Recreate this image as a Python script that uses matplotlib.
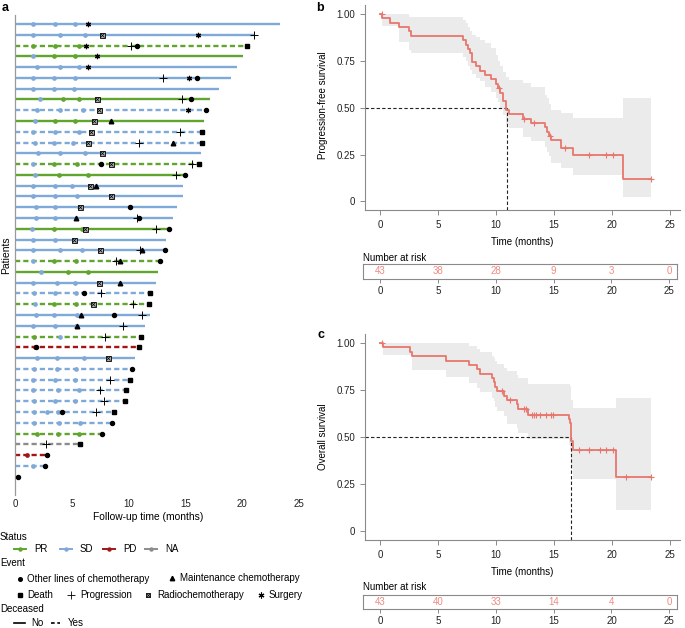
import numpy as np
import matplotlib
matplotlib.use('Agg')
import matplotlib.pyplot as plt
from matplotlib.lines import Line2D

plt.rcParams['font.family'] = ['Liberation Sans', 'DejaVu Sans']
plt.rcParams['font.size'] = 7

# ---------------- swimmer data (panel a) ----------------
duration = [23.3, 21.1, 20.4, 20.1, 19.5, 19.0, 18.0, 17.2, 16.8, 16.65,
            16.5, 16.5, 16.4, 16.2, 14.95, 14.75, 14.75, 14.3, 13.9, 13.55,
            13.25, 13.2, 12.75, 12.6, 12.4, 11.9, 11.8, 11.9, 11.45, 11.05,
            10.9, 10.6, 10.3, 10.1, 9.8, 9.7, 8.7, 8.5, 7.7, 5.7,
            2.8, 2.6, 0.3]
status = ['SD', 'SD', 'PR', 'PR', 'SD', 'SD', 'SD', 'PR', 'SD', 'PR',
          'SD', 'SD', 'SD', 'PR', 'PR', 'SD', 'SD', 'SD', 'SD', 'PR',
          'SD', 'SD', 'PR', 'PR', 'SD', 'SD', 'PR', 'SD', 'SD', 'PR',
          'PD', 'SD', 'SD', 'SD', 'SD', 'SD', 'SD', 'SD', 'PR', 'NA',
          'PD', 'SD', 'NA']
deceased = [0, 0, 1, 0, 0, 0, 0, 0, 1, 0,
            1, 1, 0, 1, 0, 0, 0, 0, 0, 0,
            0, 0, 1, 0, 0, 1, 1, 0, 0, 1,
            1, 0, 1, 1, 1, 1, 1, 1, 1, 1,
            1, 1, 1]
assess_times = [[1.6, 3.5, 5.3], [1.6, 3.96, 6.16], [1.6, 3.5, 5.6], [1.6, 3.46, 5.28],
                [1.9, 4.0, 5.6], [1.6, 3.46, 5.3], [1.6, 3.4, 5.2], [2.2, 4.2, 5.6],
                [1.9, 3.96, 6.0], [1.75, 3.5, 5.3], [1.6, 3.5, 5.6], [1.75, 3.46, 5.1],
                [2.05, 4.0, 6.16], [1.6, 3.4, 5.5], [1.76, 3.9, 6.4], [1.6, 3.5, 5.0],
                [1.6, 3.5, 5.5], [1.85, 3.5, 5.6], [1.85, 3.5], [1.5, 3.4, 5.9],
                [1.6, 3.5], [1.6, 3.96, 5.9], [1.6, 3.46, 5.4], [2.25, 4.7, 6.45],
                [1.6, 3.7, 5.3], [1.7, 3.5, 5.4], [1.8, 3.46, 5.4], [1.85, 3.46, 5.5],
                [1.6, 3.5, 5.4], [1.7, 3.96], [1.8], [1.9, 3.7, 6.1],
                [1.7, 3.7, 5.4], [1.6, 3.5, 5.3], [1.6, 3.8, 5.6], [1.7, 3.55, 5.3],
                [1.7, 2.85, 3.8], [1.7, 3.9, 5.7], [1.9, 3.8, 5.65], [],
                [1.05], [1.6], []]
assess_status = ['SSS', 'SSS', 'PPP', 'SPP', 'SSS', 'SSS', 'SSS', 'SPP', 'SSS', 'SPP',
                 'SSS', 'SSS', 'SSS', 'SPP', 'SPP', 'SSS', 'SSS', 'SSS', 'SS', 'SPP',
                 'SS', 'SSS', 'SPP', 'SPP', 'SSS', 'SSS', 'SPP', 'SSS', 'SSS', 'PS',
                 'D', 'SSS', 'SSS', 'SSS', 'SSS', 'SSS', 'SSS', 'SSS', 'PPP', '',
                 'D', 'S', '']

# events: (patient number, month)
ev_other_chemo = [(3, 10.7), (6, 16.0), (8, 15.45), (9, 16.8), (14, 7.6), (15, 15.0),
                  (18, 10.1), (19, 10.9), (20, 13.55), (22, 13.2), (23, 12.75),
                  (26, 6.1), (28, 8.7), (31, 1.85), (33, 10.3), (37, 4.1), (38, 8.5),
                  (39, 7.7), (41, 2.8), (42, 2.6), (43, 0.3)]
ev_maintenance = [(10, 8.45), (12, 13.9), (16, 7.1), (19, 5.35), (22, 11.15),
                  (23, 9.25), (25, 9.25), (28, 5.85), (29, 5.5)]
ev_death = [(3, 20.4), (11, 16.5), (12, 16.5), (14, 16.2), (26, 11.9), (27, 11.8),
            (30, 11.05), (31, 10.9), (34, 10.1), (35, 9.8), (36, 9.7), (37, 8.7),
            (40, 5.7)]
ev_progression = [(2, 21.05), (3, 10.2), (6, 13.05), (8, 14.7), (11, 14.55), (12, 10.95),
                  (14, 15.6), (15, 14.2), (19, 10.7), (20, 12.4), (22, 11.0), (23, 8.9),
                  (26, 7.6), (27, 10.35), (28, 11.2), (29, 9.5), (30, 7.95), (34, 8.4),
                  (35, 7.5), (36, 7.8), (37, 7.1), (40, 2.7)]
ev_radiochemo = [(2, 7.7), (8, 7.2), (9, 7.4), (10, 6.95), (11, 6.65), (12, 6.45),
                 (13, 7.7), (14, 8.45), (16, 6.6), (17, 8.45), (18, 5.7), (20, 6.15),
                 (21, 5.15), (22, 7.5), (25, 7.4), (27, 6.9), (32, 8.2)]
ev_surgery = [(1, 6.45), (2, 16.1), (3, 6.25), (4, 7.2), (5, 6.45), (6, 15.3), (9, 15.25)]

status_colors = {'PR': '#5FA52E', 'SD': '#7FA9D8', 'PD': '#A31515', 'NA': '#8C8C8C'}
code_status = {'P': 'PR', 'S': 'SD', 'D': 'PD', 'N': 'NA'}

# ---------------- Kaplan-Meier data (panels b, c) ----------------
pfs_t = [0, 0.2, 0.85, 1.65, 2.5, 2.7, 7.15, 7.45, 7.6, 7.75, 7.9, 8.25, 8.6, 9.05, 9.6,
         10.05, 10.2, 10.4, 10.6, 10.85, 11.1, 12.3, 13.05, 14.2, 14.45, 14.6, 14.75,
         15.6, 16.7, 21.0, 23.4]
pfs_s = [1.0, 0.977, 0.953, 0.930, 0.907, 0.884, 0.860, 0.837, 0.814, 0.791, 0.744,
         0.721, 0.698, 0.674, 0.651, 0.628, 0.605, 0.581, 0.535, 0.488, 0.465, 0.442,
         0.419, 0.395, 0.372, 0.349, 0.326, 0.287, 0.245, 0.122, 0.122]
pfs_hi = [1.0, 1.0, 1.0, 1.0, 0.986, 0.986, 0.968, 0.95, 0.93, 0.91, 0.89, 0.875, 0.86,
          0.845, 0.82, 0.78, 0.75, 0.72, 0.69, 0.665, 0.65, 0.63, 0.61, 0.57, 0.55,
          0.52, 0.49, 0.47, 0.443, 0.55, 0.55]
pfs_lo = [1.0, 0.938, 0.938, 0.85, 0.81, 0.79, 0.77, 0.75, 0.72, 0.70, 0.68, 0.66, 0.64,
          0.61, 0.585, 0.55, 0.53, 0.50, 0.46, 0.415, 0.39, 0.345, 0.32, 0.29, 0.265,
          0.24, 0.205, 0.176, 0.14, 0.025, 0.025]
pfs_censor = [0.15, 10.3, 12.45, 13.3, 14.65, 16.0, 18.0, 19.5, 20.1, 23.4]
pfs_median = 10.95
pfs_risk = [43, 38, 28, 9, 3, 0]

os_t = [0, 0.25, 2.6, 2.75, 5.7, 7.7, 8.4, 8.65, 9.65, 9.8, 9.95, 10.1, 10.7, 10.95,
        11.8, 11.95, 12.8, 16.3, 16.4, 16.5, 16.7, 20.4, 23.4]
os_s = [1.0, 0.977, 0.953, 0.930, 0.907, 0.884, 0.860, 0.837, 0.814, 0.791, 0.767,
        0.744, 0.721, 0.698, 0.674, 0.651, 0.620, 0.597, 0.574, 0.478, 0.430, 0.287, 0.287]
os_hi = [1.0, 1.0, 1.0, 1.0, 1.0, 0.985, 0.97, 0.95, 0.93, 0.92, 0.905, 0.89, 0.87, 0.85,
         0.83, 0.815, 0.78, 0.78, 0.77, 0.70, 0.657, 0.707, 0.707]
os_lo = [1.0, 0.935, 0.935, 0.855, 0.82, 0.79, 0.76, 0.74, 0.71, 0.69, 0.66, 0.64, 0.61,
         0.57, 0.55, 0.52, 0.49, 0.46, 0.43, 0.33, 0.28, 0.113, 0.113]
os_censor = [0.2, 10.5, 11.2, 12.4, 12.6, 13.1, 13.3, 13.5, 13.8, 14.35, 14.75, 14.9,
             17.2, 18.0, 19.0, 19.5, 20.1, 21.2, 23.4]
os_median = 16.5
os_risk = [43, 40, 33, 14, 4, 0]

risk_times = [0, 5, 10, 15, 20, 25]

KM_COLOR = '#E8766C'
RISK_COLOR = '#EE8A82'
GREY = '#8A8A8A'
W, H = 685.0, 628.0


def fig_rect(x0, y0, x1, y1):
    # pixel box (top-left origin) -> figure fraction rect
    return [x0 / W, 1 - y1 / H, (x1 - x0) / W, (y1 - y0) / H]


def DrawSwimmer(ax):
    dash = (0, (2.2, 1.3))
    for i in range(len(duration)):
        y = i + 1
        ls = dash if deceased[i] else '-'
        ax.plot([0, duration[i]], [y, y], color=status_colors[status[i]], lw=1.7,
                ls=ls, solid_capstyle='butt', dash_capstyle='butt', zorder=1)
        for t, c in zip(assess_times[i], assess_status[i]):
            ax.plot(t, y, 'o', color=status_colors[code_status[c]], ms=3.4,
                    mec='none', zorder=2)

    def pts(ev):
        return [e[1] for e in ev], [e[0] for e in ev]

    x, y = pts(ev_other_chemo)
    ax.plot(x, y, 'o', color='black', ms=2.9, ls='none', zorder=3)
    x, y = pts(ev_maintenance)
    ax.plot(x, y, '^', color='black', ms=3.3, ls='none', zorder=3)
    x, y = pts(ev_death)
    ax.plot(x, y, 's', color='black', ms=2.8, ls='none', zorder=3)
    x, y = pts(ev_progression)
    ax.plot(x, y, '+', color='black', ms=6, mew=0.7, ls='none', zorder=3)
    x, y = pts(ev_radiochemo)
    ax.plot(x, y, 's', mfc='#b0b0b0', mec='black', ms=3.6, mew=0.6, ls='none', zorder=3)
    ax.plot(x, y, 'x', color='black', ms=2.6, mew=0.5, ls='none', zorder=4)
    x, y = pts(ev_surgery)
    ax.plot(x, y, marker=(6, 2, 0), color='black', ms=3.8, mew=0.9, ls='none', zorder=3)

    ax.set_xlim(0, 25.5)
    ax.set_ylim(len(duration) + 1.7, 0.17)
    ax.set_xticks([0, 5, 10, 15, 20, 25])
    ax.set_yticks([])
    ax.tick_params(axis='x', length=0, pad=3, labelsize=7, labelcolor='#222222')
    for s in ['top', 'right', 'bottom']:
        ax.spines[s].set_visible(False)
    ax.spines['left'].set_color('#9a9a9a')
    ax.spines['left'].set_linewidth(0.9)


def DrawKM(ax, t, s, lo, hi, censor, median):
    ax.fill_between(t, lo, hi, step='post', color='#EBEBEB', lw=0, zorder=1)
    ax.step(t, s, where='post', color=KM_COLOR, lw=1.3, zorder=3)
    t_arr = np.asarray(t)
    cy = [s[np.searchsorted(t_arr, c, side='right') - 1] for c in censor]
    ax.plot(censor, cy, '+', color=KM_COLOR, ms=4, mew=0.8, ls='none', zorder=4)
    ax.plot([-1.3, median], [0.5, 0.5], color='#222222', lw=0.8, ls=(0, (3, 2)), zorder=2)
    ax.plot([median, median], [-0.046, 0.5], color='#222222', lw=0.8, ls=(0, (3, 2)), zorder=2)
    ax.set_xlim(-1.3, 25.9)
    ax.set_ylim(-0.046, 1.048)
    ax.set_xticks([0, 5, 10, 15, 20, 25])
    ax.set_yticks([0, 0.25, 0.5, 0.75, 1.0])
    ax.set_yticklabels(['0', '0.25', '0.50', '0.75', '1.00'])
    ax.set_xlabel('Time (months)', fontsize=7, labelpad=5)
    ax.tick_params(length=3.5, width=0.7, color=GREY, labelsize=7, labelcolor='#222222')
    for sp in ['top', 'right']:
        ax.spines[sp].set_visible(False)
    for sp in ['left', 'bottom']:
        ax.spines[sp].set_color(GREY)
        ax.spines[sp].set_linewidth(0.8)


def DrawRisk(ax, risk):
    ax.set_xlim(-1.47, 25.66)
    ax.set_ylim(0, 1)
    for x, n in zip(risk_times, risk):
        ax.text(x, 0.5, str(n), color=RISK_COLOR, ha='center', va='center', fontsize=7)
    ax.set_xticks(risk_times)
    ax.set_yticks([])
    ax.tick_params(axis='x', length=3, width=0.7, color=GREY, pad=2,
                   labelsize=7, labelcolor='#222222')
    for sp in ax.spines.values():
        sp.set_color(GREY)
        sp.set_linewidth(0.8)


fig = plt.figure(figsize=(6.85, 6.28), dpi=100)

ax_a = fig.add_axes(fig_rect(15, 15, 304.7, 495))
DrawSwimmer(ax_a)

ax_b = fig.add_axes(fig_rect(365, 5, 680, 210))
DrawKM(ax_b, pfs_t, pfs_s, pfs_lo, pfs_hi, pfs_censor, pfs_median)
ax_br = fig.add_axes(fig_rect(363, 264, 677, 279))
DrawRisk(ax_br, pfs_risk)

ax_c = fig.add_axes(fig_rect(365, 334, 680, 540))
DrawKM(ax_c, os_t, os_s, os_lo, os_hi, os_censor, os_median)
ax_cr = fig.add_axes(fig_rect(363, 595, 677, 609))
DrawRisk(ax_cr, os_risk)

# overlay in pixel coordinates for labels and the legend of panel a
ov = fig.add_axes([0, 0, 1, 1], zorder=-1)
ov.set_xlim(0, W)
ov.set_ylim(H, 0)
ov.axis('off')

ov.text(2, 8, 'a', fontsize=9, fontweight='bold', va='center')
ov.text(316, 8, 'b', fontsize=9, fontweight='bold', va='center')
ov.text(318, 335, 'c', fontsize=9, fontweight='bold', va='center')
ov.text(6, 255, 'Patients', rotation=90, ha='center', va='center', fontsize=7.5)
ov.text(148, 517, 'Follow-up time (months)', ha='center', va='center', fontsize=7.4)
ov.text(323, 105, 'Progression-free survival', rotation=90, ha='center', va='center', fontsize=7)
ov.text(323, 437, 'Overall survival', rotation=90, ha='center', va='center', fontsize=7)
ov.text(363, 258, 'Number at risk', ha='left', va='center', fontsize=7)
ov.text(363, 587, 'Number at risk', ha='left', va='center', fontsize=7)

# legend
ov.text(0, 537, 'Status', ha='left', va='center', fontsize=7)
for x0, lab in zip([14, 60, 103, 145], ['PR', 'SD', 'PD', 'NA']):
    col = status_colors[lab]
    ov.add_line(Line2D([x0, x0 + 12], [549, 549], color=col, lw=1.4))
    ov.plot(x0 + 6, 549, 'o', color=col, ms=3.2, mec='none')
    ov.text(x0 + 20, 549, lab, ha='left', va='center', fontsize=7)

ov.text(0, 563, 'Event', ha='left', va='center', fontsize=7)
ov.plot(20, 579, 'o', color='black', ms=2.6)
ov.text(27, 579, 'Other lines of chemotherapy', ha='left', va='center', fontsize=7)
ov.plot(172, 578, '^', color='black', ms=3.2)
ov.text(180, 578, 'Maintenance chemotherapy', ha='left', va='center', fontsize=7)
ov.plot(20, 595, 's', color='black', ms=2.6)
ov.text(27, 595, 'Death', ha='left', va='center', fontsize=7)
ov.plot(71, 595, '+', color='black', ms=5.5, mew=0.6)
ov.text(80, 595, 'Progression', ha='left', va='center', fontsize=7)
ov.plot(148, 595, 's', mfc='#b0b0b0', mec='black', ms=3.4, mew=0.6)
ov.plot(148, 595, 'x', color='black', ms=2.4, mew=0.5)
ov.text(157, 595, 'Radiochemotherapy', ha='left', va='center', fontsize=7)
ov.plot(261, 595, marker=(6, 2, 0), color='black', ms=4.2, mew=0.8)
ov.text(269, 595, 'Surgery', ha='left', va='center', fontsize=7)

ov.text(0, 609, 'Deceased', ha='left', va='center', fontsize=7)
ov.add_line(Line2D([14, 25], [623, 623], color='black', lw=1.2))
ov.text(31, 623, 'No', ha='left', va='center', fontsize=7)
ov.add_line(Line2D([51, 60], [623, 623], color='black', lw=1.2, ls=(0, (2.2, 1.6))))
ov.text(68, 623, 'Yes', ha='left', va='center', fontsize=7)

fig.savefig('out.png', dpi=100)
